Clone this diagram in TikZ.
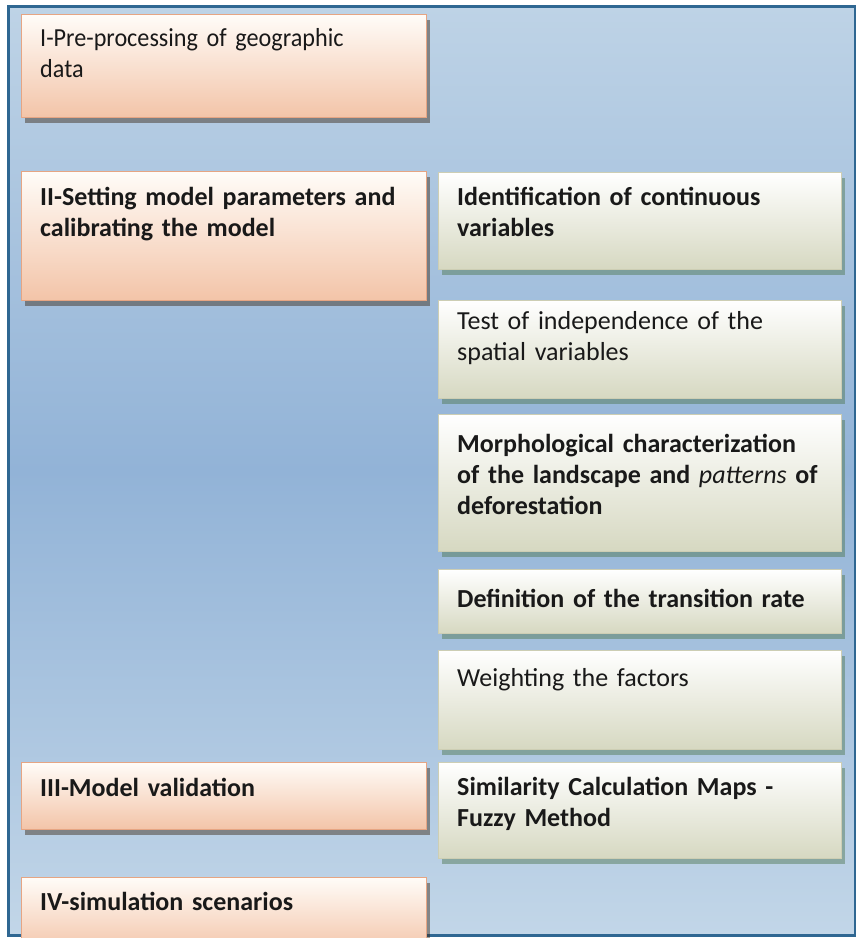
\documentclass[tikz,border=0pt]{standalone}
\usepackage{fontspec}
\setmainfont{Carlito}
\newfontfamily\narrowfont[FakeStretch=0.93]{Carlito}
\usetikzlibrary{shadows}
\definecolor{bgtop}{HTML}{BED3E6}
\definecolor{bgmid}{HTML}{92B3D7}
\definecolor{bgbot}{HTML}{C2D6E8}
\definecolor{framec}{HTML}{2F6792}
\definecolor{ltop}{HTML}{FFFCF8}
\definecolor{lbot}{HTML}{F3C4A8}
\definecolor{ldraw}{HTML}{E6A583}
\definecolor{rtop}{HTML}{FFFFFF}
\definecolor{rbot}{HTML}{D6D8C1}
\definecolor{rdraw}{HTML}{CDCEB4}
\tikzset{
  framebox/.style={draw=framec, line width=2.5pt, top color=bgtop, bottom color=bgbot, middle color=bgmid},
  lbox/.style={rectangle, draw=ldraw, line width=1.2pt, top color=ltop, bottom color=lbot,
    anchor=north west, minimum width=405pt, inner sep=0pt,
    drop shadow={shadow xshift=3pt, shadow yshift=-5pt, fill=black!70!brown, opacity=0.45}},
  rbox/.style={rectangle, draw=rdraw, line width=1.2pt, top color=rtop, bottom color=rbot,
    anchor=north west, minimum width=403pt, inner sep=0pt,
    drop shadow={shadow xshift=3pt, shadow yshift=-5pt, fill=black!60!green!40!gray, opacity=0.45}},
  txt/.style={anchor=base west, inner sep=0pt, align=left, text width=400pt,
    font=\fontsize{26}{31}\selectfont, text=black!90},
}
\begin{document}
\begin{tikzpicture}[x=1pt,y=-1pt]
\useasboundingbox (0,0) rectangle (856,938);
\clip (0,0) rectangle (856,938);
\fill[white] (0,0) rectangle (856,938);
\node[framebox, anchor=north west, minimum width=847pt, minimum height=929pt, inner sep=0pt] (frame) at (7,5) {};
% left boxes
\node[lbox, minimum height=103pt] (b1) at (21,14) {};
\node[lbox, minimum height=129pt] (b2) at (21,171) {};
\node[lbox, minimum height=67pt] (b3) at (21,762) {};
\node[lbox, minimum height=75pt] (b4) at (21,877) {};
% right boxes
\node[rbox, minimum height=97pt] (r1) at (438,172) {};
\node[rbox, minimum height=98pt] (r2) at (438,300) {};
\node[rbox, minimum height=137pt] (r3) at (438,414) {};
\node[rbox, minimum height=64pt] (r4) at (438,569) {};
\node[rbox, minimum height=99pt] (r5) at (438,650) {};
\node[rbox, minimum height=96pt] (r6) at (438,762) {};
% texts
\node[txt] (t1) at ([xshift=19pt,yshift=-32pt]b1.north west) {\narrowfont I-Pre-processing of geographic\\data};
\node[txt] (t2) at ([xshift=19pt,yshift=-34pt]b2.north west) {\textbf{II-Setting model parameters and}\\\textbf{calibrating the model}};
\node[txt] (t3) at ([xshift=19pt,yshift=-34pt]b3.north west) {\textbf{III-Model validation}};
\node[txt] (t4) at ([xshift=19pt,yshift=-33pt]b4.north west) {\textbf{IV-simulation scenarios}};
\node[txt] (s1) at ([xshift=19pt,yshift=-33pt]r1.north west) {\textbf{Identification of continuous}\\\textbf{variables}};
\node[txt] (s2) at ([xshift=19pt,yshift=-29pt]r2.north west) {Test of independence of the\\spatial variables};
\node[txt] (s3) at ([xshift=19pt,yshift=-38pt]r3.north west) {\textbf{Morphological characterization}\\\textbf{of the landscape and} {\itshape patterns} \textbf{of}\\\textbf{deforestation}};
\node[txt] (s4) at ([xshift=19pt,yshift=-38pt]r4.north west) {\textbf{Definition of the transition rate}};
\node[txt] (s5) at ([xshift=19pt,yshift=-36pt]r5.north west) {Weighting the factors};
\node[txt] (s6) at ([xshift=19pt,yshift=-33pt]r6.north west) {\textbf{Similarity Calculation Maps -}\\\textbf{Fuzzy Method}};
\end{tikzpicture}
\end{document}
